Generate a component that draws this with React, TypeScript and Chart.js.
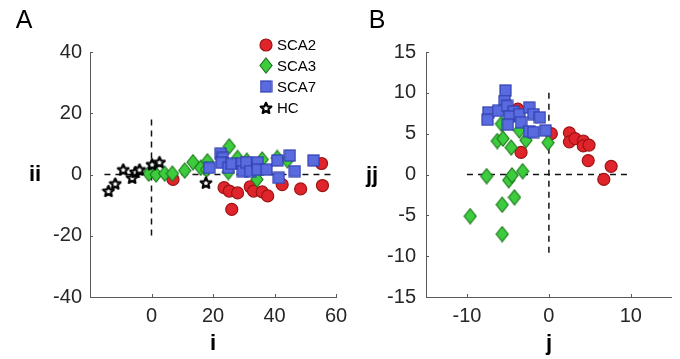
import React, { useEffect, useRef } from "react";
import { Chart, registerables } from "chart.js";
Chart.register(...registerables);

type Pt = [number, number];

// ---------- Panel A data (i, ii) ----------
const sca2A: Pt[] = [[7.0,-1.6],[23.6,-4.3],[25.3,-5.4],[28.0,-6.0],[26.1,-11.4],[32.1,-4.0],[33.2,-5.4],[36.0,-5.7],[37.8,-7.0],[42.5,-3.3],[48.5,-4.7],[55.3,3.6],[55.6,-3.6]];
const sca3A: Pt[] = [[-0.9,0.3],[1.5,0],[4.3,0.3],[6.8,0.3],[10.8,1.3],[13.5,4.0],[16.0,2.2],[18.2,4.3],[17.9,1.6],[25.3,9.2],[28.0,5.4],[25.0,0.8],[34.3,-1.6],[36.0,4.9],[40.9,5.4],[44.2,4.6],[31.0,4.5]];
const sca7A: Pt[] = [[18.8,2.2],[22.5,6.8],[23.2,5.4],[22.8,3.8],[25.0,2.2],[26.1,3.5],[29.4,3.6],[29.7,1.1],[30.8,4.0],[32.1,1.1],[34.5,4.0],[34.5,1.6],[37.4,1.6],[40.9,4.6],[41.4,-1.1],[45.0,6.2],[46.6,1.1],[52.7,4.6]];
const hcA: Pt[] = [[-14.0,-5.4],[-11.8,-3.0],[-9.2,1.6],[-6.3,-1.1],[-5.2,0.8],[-3.9,1.6],[0.2,3.3],[2.6,4.0],[17.7,-2.7]];
const hLineA: Pt[] = [[-15.3,0],[58.3,0]];
const vLineA: Pt[] = [[0,18],[0,-20]];
const xTicksA = [0, 20, 40, 60];
const yTicksA = [-40, -20, 0, 20, 40];

// ---------- Panel B data (j, jj) ----------
const sca2B: Pt[] = [[-3.4,2.7],[-3.8,8.0],[0.3,5.0],[2.5,5.1],[2.5,4.0],[3.2,4.4],[4.2,4.1],[4.2,3.5],[4.9,3.6],[4.8,1.7],[7.6,1.0],[6.7,-0.6]];
const sca3B: Pt[] = [[-9.6,-5.1],[-7.6,-0.2],[-5.7,-7.3],[-5.7,-3.7],[-4.2,-2.8],[-4.9,-0.7],[-4.5,-0.1],[-3.2,0.4],[-6.3,4.1],[-5.6,4.4],[-4.6,3.3],[-5.8,6.2],[-3.6,5.4],[-2.8,4.2],[-0.1,3.9]];
const sca7B: Pt[] = [[-5.3,10.3],[-5.4,9.0],[-7.4,7.6],[-7.5,6.7],[-6.2,7.8],[-5.1,8.4],[-4.3,7.7],[-4.8,7.1],[-5.0,6.1],[-3.6,7.4],[-3.4,6.4],[-2.4,8.2],[-1.9,7.4],[-1.1,7.0],[-2.4,5.3],[-1.9,5.2],[-0.4,5.4]];
const hLineB: Pt[] = [[-10,0],[10,0]];
const vLineB: Pt[] = [[0,10],[0,-10]];
const xTicksB = [-10, 0, 10];
const yTicksB = [-15, -10, -5, 0, 5, 10, 15];

const legendLabels = ["SCA2", "SCA3", "SCA7", "HC"];

const FONT = '"Liberation Sans", Arial, Helvetica, sans-serif';
const AXIS = "#5a5a5a";
const TXT = "#262626";
const RED = "#e0242b", RED_E = "#9e1414";
const GRN = "#3dcc3d", GRN_E = "#1d7a1d";
const BLU = "#5a6be0", BLU_E = "#3040b0";

function mk(w: number, h: number, draw: (c: CanvasRenderingContext2D) => void) {
  const cv = document.createElement("canvas");
  cv.width = w; cv.height = h;
  const c = cv.getContext("2d")!;
  draw(c);
  return cv;
}
const diamondImg = mk(14, 17, (c) => {
  c.beginPath(); c.moveTo(7, 1); c.lineTo(13, 8.5); c.lineTo(7, 16); c.lineTo(1, 8.5); c.closePath();
  c.fillStyle = GRN; c.fill(); c.lineWidth = 1.2; c.strokeStyle = GRN_E; c.stroke();
});
const squareImg = mk(13, 13, (c) => {
  c.fillStyle = BLU; c.fillRect(1, 1, 11, 11); c.lineWidth = 1.2; c.strokeStyle = BLU_E; c.strokeRect(1, 1, 11, 11);
});
const circleImg = mk(14, 14, (c) => {
  c.beginPath(); c.arc(7, 7, 6, 0, Math.PI * 2); c.fillStyle = RED; c.fill(); c.lineWidth = 1.2; c.strokeStyle = RED_E; c.stroke();
});
const starImg = mk(14, 14, (c) => {
  c.beginPath();
  for (let k = 0; k < 10; k++) {
    const r = k % 2 === 0 ? 5.6 : 2.6;
    const a = -Math.PI / 2 + (k * Math.PI) / 5;
    const x = 7 + r * Math.cos(a), y = 7.4 + r * Math.sin(a);
    if (k === 0) c.moveTo(x, y); else c.lineTo(x, y);
  }
  c.closePath(); c.fillStyle = "#ffffff"; c.fill(); c.lineWidth = 2.2; c.strokeStyle = "#000"; c.lineJoin = "round"; c.stroke();
});

const toXY = (a: Pt[]) => a.map(([x, y]) => ({ x, y }));

function series(label: string, data: Pt[], img: any, order: number) {
  return { label, data: toXY(data), pointStyle: img, pointRadius: 7, pointHoverRadius: 7, order, showLine: false };
}
function dashed(data: Pt[]) {
  return { label: "", data: toXY(data), showLine: true, borderColor: "#111", borderWidth: 1.5, borderDash: [6, 5], pointRadius: 0, order: 10 };
}

type Txt = { t: string; x: number; y: number; size: number; bold?: boolean };

function decoPlugin(texts: Txt[], legend: boolean) {
  return {
    id: "deco",
    afterDraw(chart: any) {
      const ctx = chart.ctx as CanvasRenderingContext2D;
      const { left, bottom } = chart.chartArea;
      ctx.save();
      ctx.strokeStyle = AXIS; ctx.lineWidth = 1;
      const xs = chart.scales.x, ys = chart.scales.y;
      xs.ticks.forEach((tk: any) => {
        const p = Math.round(xs.getPixelForValue(tk.value)) + 0.5;
        ctx.beginPath(); ctx.moveTo(p, bottom); ctx.lineTo(p, bottom - 3); ctx.stroke();
      });
      ys.ticks.forEach((tk: any) => {
        const p = Math.round(ys.getPixelForValue(tk.value)) + 0.5;
        ctx.beginPath(); ctx.moveTo(left, p); ctx.lineTo(left + 3, p); ctx.stroke();
      });
      ctx.fillStyle = "#000"; ctx.textAlign = "center"; ctx.textBaseline = "middle";
      texts.forEach((t) => {
        ctx.font = `${t.bold ? "bold " : ""}${t.size}px ${FONT}`;
        ctx.fillText(t.t, t.x, t.y);
      });
      if (legend) {
        const imgs = [circleImg, diamondImg, squareImg, starImg];
        const ys2 = [45, 65.5, 86.5, 108];
        ctx.font = `15px ${FONT}`; ctx.textAlign = "left"; ctx.fillStyle = "#000";
        imgs.forEach((im, i) => {
          ctx.drawImage(im, 266 - im.width / 2, ys2[i] - im.height / 2);
          ctx.fillText(legendLabels[i], 277, ys2[i] + 1);
        });
      }
      ctx.restore();
    },
  };
}

function makeConfig(opts: {
  datasets: any[]; xr: [number, number]; yr: [number, number]; xt: number[]; yt: number[];
  yw: number; ypad: number; padRight: number; texts: Txt[]; legend: boolean;
}) {
  const tickFont = { family: FONT, size: 20 };
  return {
    type: "scatter",
    data: { datasets: opts.datasets },
    options: {
      animation: false, responsive: false, devicePixelRatio: 1,
      layout: { padding: { left: 0, top: 52, right: opts.padRight, bottom: 0 } },
      plugins: { legend: { display: false }, tooltip: { enabled: false } },
      scales: {
        x: {
          type: "linear", min: opts.xr[0], max: opts.xr[1],
          afterBuildTicks: (s: any) => { s.ticks = opts.xt.map((v) => ({ value: v })); },
          afterFit: (s: any) => { s.height = 62; },
          grid: { display: false, drawTicks: false },
          border: { display: true, color: AXIS, width: 1 },
          ticks: { font: tickFont, color: TXT, padding: 7, autoSkip: false, maxRotation: 0, callback: (v: any) => String(v) },
        },
        y: {
          type: "linear", min: opts.yr[0], max: opts.yr[1],
          afterBuildTicks: (s: any) => { s.ticks = opts.yt.map((v) => ({ value: v })); },
          afterFit: (s: any) => { s.width = opts.yw; },
          grid: { display: false, drawTicks: false },
          border: { display: true, color: AXIS, width: 1 },
          ticks: { font: tickFont, color: TXT, padding: opts.ypad, autoSkip: false, callback: (v: any) => String(v) },
        },
      },
    },
    plugins: [decoPlugin(opts.texts, opts.legend)],
  } as any;
}

export default function App() {
  const refA = useRef<HTMLCanvasElement>(null);
  const refB = useRef<HTMLCanvasElement>(null);
  useEffect(() => {
    const a = new Chart(refA.current!, makeConfig({
      datasets: [
        series("SCA2", sca2A, "circle", 4),
        series("SCA3", sca3A, diamondImg, 3),
        series("SCA7", sca7A, squareImg, 2),
        series("HC", hcA, starImg, 1),
        dashed(hLineA), dashed(vLineA),
      ].map((d: any) => d.label === "SCA2" ? { ...d, pointRadius: 6, backgroundColor: RED, borderColor: RED_E, borderWidth: 1.2 } : d),
      xr: [-20, 60], yr: [-40, 40], xt: xTicksA, yt: yTicksA, yw: 90, ypad: 8, padRight: 24,
      texts: [
        { t: "A", x: 24, y: 21, size: 25 },
        { t: "ii", x: 35, y: 175, size: 22, bold: true },
        { t: "i", x: 213, y: 344, size: 22, bold: true },
      ],
      legend: true,
    }));
    const b = new Chart(refB.current!, makeConfig({
      datasets: [
        series("SCA2", sca2B, "circle", 4),
        series("SCA3", sca3B, diamondImg, 3),
        series("SCA7", sca7B, squareImg, 2),
        dashed(hLineB), dashed(vLineB),
      ].map((d: any) => d.label === "SCA2" ? { ...d, pointRadius: 6, backgroundColor: RED, borderColor: RED_E, borderWidth: 1.2 } : d),
      xr: [-15, 15], yr: [-15, 15], xt: xTicksB, yt: yTicksB, yw: 66, ypad: 10, padRight: 8,
      texts: [
        { t: "B", x: 17, y: 21, size: 25 },
        { t: "jj", x: 12, y: 176, size: 22, bold: true },
        { t: "j", x: 189, y: 344, size: 22, bold: true },
      ],
      legend: false,
    }));
    return () => { a.destroy(); b.destroy(); };
  }, []);
  return (
    <div style={{ position: "absolute", left: 0, top: 0, width: 680, height: 359, background: "#fff" }}>
      <canvas ref={refA} width={360} height={359} style={{ position: "absolute", left: 0, top: 0, width: 360, height: 359 }} />
      <canvas ref={refB} width={320} height={359} style={{ position: "absolute", left: 360, top: 0, width: 320, height: 359 }} />
    </div>
  );
}
